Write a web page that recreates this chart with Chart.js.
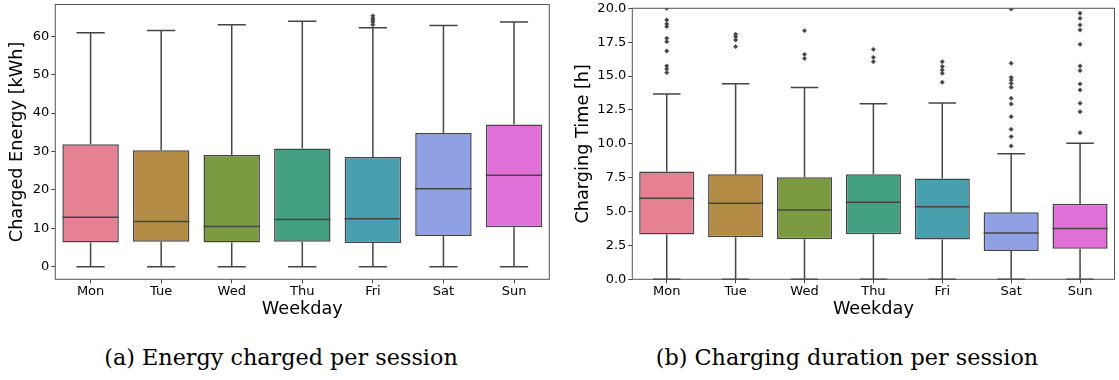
<!DOCTYPE html>
<html><head><meta charset="utf-8">
<script src="https://cdn.jsdelivr.net/npm/chart.js@4/dist/chart.umd.min.js"></script>
<style>
html,body{margin:0;padding:0;background:#fff;}
body{width:1119px;height:380px;position:relative;overflow:hidden;}
.c{position:absolute;top:0;height:330px;}
.cap{position:absolute;font-family:"DejaVu Serif",serif;font-size:22.3px;color:#000;white-space:nowrap;transform:translate(-50%,-50%);}
</style></head><body>
<div class="c" style="left:0;width:560px"><canvas id="a"></canvas></div>
<div class="c" style="left:560px;width:559px"><canvas id="b"></canvas></div>
<div class="cap" style="left:281px;top:357px">(a) Energy charged per session</div>
<div class="cap" style="left:847px;top:357px">(b) Charging duration per session</div>
<script>
const weekdays = ['Mon','Tue','Wed','Thu','Fri','Sat','Sun'];
const boxColors = ['#e68193','#b38b44','#7c9a40','#43a082','#489fae','#90a0e5','#e070d8'];

// (a) Energy charged per session [kWh]
const energyMin    = [0, 0, 0, 0, 0, 0, 0];
const energyQ1     = [6.3, 6.5, 6.3, 6.5, 6.2, 8.0, 10.3];
const energyMedian = [12.9, 11.8, 10.5, 12.3, 12.5, 20.3, 23.8];
const energyQ3     = [31.9, 30.3, 29.1, 30.8, 28.6, 34.8, 37.0];
const energyMax    = [60.9, 61.5, 63.0, 63.9, 62.2, 62.8, 63.7];
const energyOutliers = [[], [], [], [], [63.0, 63.7, 64.2, 64.7, 65.3], [], []];
const energyTicks  = [0, 10, 20, 30, 40, 50, 60];

// (b) Charging duration per session [h]
const durationMin    = [0, 0, 0, 0, 0, 0, 0];
const durationQ1     = [3.30, 3.10, 2.95, 3.32, 2.93, 2.09, 2.26];
const durationMedian = [5.98, 5.61, 5.12, 5.68, 5.36, 3.42, 3.74];
const durationQ3     = [7.95, 7.75, 7.53, 7.75, 7.43, 4.94, 5.58];
const durationMax    = [13.68, 14.44, 14.15, 12.96, 13.01, 9.27, 10.04];
const durationOutliers = [
  [20.0, 19.14, 18.84, 18.65, 17.79, 17.54, 16.85, 15.74, 15.52, 15.25],
  [18.08, 17.9, 17.66, 17.17],
  [18.35, 16.6, 16.3],
  [16.97, 16.38, 16.06],
  [16.06, 15.7, 15.45, 15.2, 14.54],
  [19.95, 15.94, 14.9, 14.7, 14.46, 14.17, 13.36, 12.94, 12.0, 11.07, 10.53, 9.84],
  [19.63, 19.26, 18.77, 18.4, 17.34, 15.74, 15.4, 14.42, 13.97, 12.99, 12.37, 10.82]
];
const durationTicks = [0, 2.5, 5, 7.5, 10, 12.5, 15, 17.5, 20];

const LINE = '#454545';
Chart.defaults.font.family = '"DejaVu Sans", sans-serif';

const boxPlugin = {
  id: 'boxParts',
  beforeDatasetsDraw(chart, args, o) {
    const {ctx, chartArea} = chart;
    const y = chart.scales.y;
    const meta = chart.getDatasetMeta(0);
    ctx.save();
    ctx.beginPath();
    ctx.rect(chartArea.left, chartArea.top - 1, chartArea.width, chartArea.height + 2);
    ctx.clip();
    ctx.strokeStyle = LINE; ctx.lineWidth = 1.5;
    meta.data.forEach((bar, i) => {
      const {x: cx, width} = bar.getProps(['x', 'width'], true);
      const half = width / 4;
      const yLo = y.getPixelForValue(o.min[i]), yQ1 = y.getPixelForValue(o.q1[i]);
      const yHi = y.getPixelForValue(o.max[i]), yQ3 = y.getPixelForValue(o.q3[i]);
      ctx.beginPath();
      ctx.moveTo(cx, yQ1); ctx.lineTo(cx, yLo);
      ctx.moveTo(cx - half, yLo); ctx.lineTo(cx + half, yLo);
      ctx.moveTo(cx, yQ3); ctx.lineTo(cx, yHi);
      ctx.moveTo(cx - half, yHi); ctx.lineTo(cx + half, yHi);
      ctx.stroke();
    });
    ctx.restore();
  },
  afterDatasetsDraw(chart, args, o) {
    const {ctx} = chart;
    const y = chart.scales.y;
    const meta = chart.getDatasetMeta(0);
    ctx.save();
    ctx.strokeStyle = LINE; ctx.lineWidth = 1.5;
    meta.data.forEach((bar, i) => {
      const {x: cx, width} = bar.getProps(['x', 'width'], true);
      const ym = y.getPixelForValue(o.median[i]);
      ctx.beginPath();
      ctx.moveTo(cx - width / 2, ym); ctx.lineTo(cx + width / 2, ym);
      ctx.stroke();
    });
    ctx.restore();
  },
  afterDraw(chart) {
    const {ctx, chartArea: a} = chart;
    ctx.save();
    ctx.strokeStyle = '#555'; ctx.lineWidth = 1;
    ctx.strokeRect(a.left, a.top, a.width, a.height);
    ctx.restore();
  }
};

function makeChart(id, s) {
  const outlierPoints = [];
  s.outliers.forEach((arr, i) => arr.forEach(v => outlierPoints.push({x: weekdays[i], y: v})));
  return new Chart(document.getElementById(id), {
    type: 'bar',
    data: {
      labels: weekdays,
      datasets: [
        {
          data: s.q1.map((q, i) => [q, s.q3[i]]),
          backgroundColor: boxColors,
          borderColor: LINE,
          borderWidth: 1.5,
          borderSkipped: false,
          barPercentage: 0.8,
          categoryPercentage: 1.0
        },
        {
          type: 'line',
          data: outlierPoints,
          showLine: false,
          pointStyle: 'rectRot',
          pointRadius: 2.2,
          pointBackgroundColor: LINE,
          pointBorderColor: LINE,
          pointBorderWidth: 0.5
        }
      ]
    },
    options: {
      responsive: true,
      maintainAspectRatio: false,
      animation: false,
      devicePixelRatio: 1,
      layout: {padding: s.padding},
      plugins: {legend: {display: false}, tooltip: {enabled: false}, boxParts: s},
      scales: {
        x: {
          type: 'category',
          offset: true,
          grid: {display: true, drawOnChartArea: false, drawTicks: true, tickLength: 4, color: LINE, offset: false},
          border: {display: false},
          ticks: {font: {size: 13}, color: '#000', padding: 1, maxRotation: 0, autoSkip: false},
          title: {display: true, text: 'Weekday', font: {size: 17.7}, color: '#000', padding: {top: 0, bottom: 10}},
          afterFit(sc) { sc.height = 50.7; sc.paddingLeft = 0; sc.paddingRight = 0; }
        },
        y: {
          min: s.yMin, max: s.yMax,
          afterBuildTicks(sc) { sc.ticks = s.ticks.map(v => ({value: v})); },
          grid: {display: true, drawOnChartArea: false, drawTicks: true, tickLength: 4, color: LINE},
          border: {display: false},
          ticks: {font: {size: 13}, color: '#000', padding: 2, callback: s.fmt},
          title: {display: true, text: s.yTitle, font: {size: 17.7}, color: '#000', padding: {top: s.titlePad, bottom: 0}},
          afterFit(sc) { sc.width = s.yWidth; sc.paddingTop = 0; sc.paddingBottom = 0; }
        }
      }
    },
    plugins: [boxPlugin]
  });
}

makeChart('a', {
  min: energyMin, q1: energyQ1, median: energyMedian, q3: energyQ3, max: energyMax,
  outliers: energyOutliers, ticks: energyTicks, yMin: -3.25, yMax: 68.25,
  fmt: v => String(v), yTitle: 'Charged Energy [kWh]', titlePad: 6.4, yWidth: 55.3,
  padding: {top: 3.3, right: 10.7, left: 0, bottom: 0}
});
makeChart('b', {
  min: durationMin, q1: durationQ1, median: durationMedian, q3: durationQ3, max: durationMax,
  outliers: durationOutliers, ticks: durationTicks, yMin: 0, yMax: 20,
  fmt: v => Number(v).toFixed(1), yTitle: 'Charging Time [h]', titlePad: 12.4, yWidth: 72.3,
  padding: {top: 8.3, right: 4.5, left: 0, bottom: 0}
});
</script>
</body></html>
